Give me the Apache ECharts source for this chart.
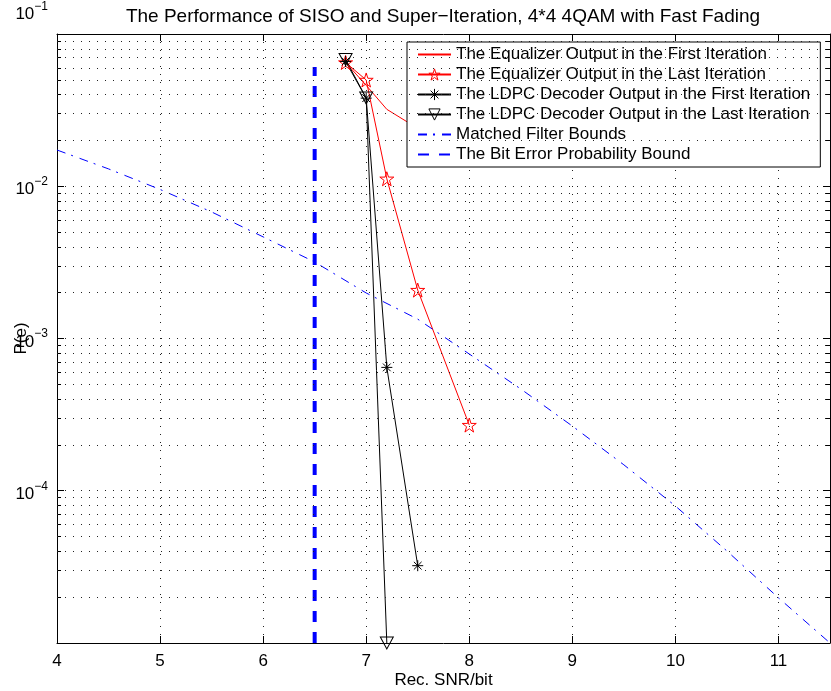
<!DOCTYPE html>
<html><head><meta charset="utf-8">
<script src="https://cdn.jsdelivr.net/npm/echarts@6/dist/echarts.min.js"></script>
<style>html,body{margin:0;padding:0;background:#fff}#c{width:831px;height:691px}</style>
</head><body><div id="c"></div>
<script>
// ---- data ----
const eqFirstSnr = [6.8, 7.0, 7.2, 7.5, 8.0];
const eqFirstPe = [0.065, 0.046, 0.032, 0.024, 0.02];
const eqLastSnr = [6.8, 7.0, 7.2, 7.5, 8.0];
const eqLastPe = [0.065, 0.0499, 0.0112, 0.00208, 0.00027];
const ldpcFirstSnr = [6.8, 7.0, 7.2, 7.5];
const ldpcFirstPe = [0.066, 0.0379, 0.000646, 3.22e-5];
const ldpcLastSnr = [6.8, 7.0, 7.2];
const ldpcLastPe = [0.068, 0.038, 1e-5];
const mfSnr = [4, 4.5, 5, 5.5, 6, 6.5, 7, 7.5, 8, 8.5, 9, 9.5, 10, 10.5, 11, 11.5];
const mfPe = [0.0173, 0.0130, 0.00953, 0.00678, 0.00465, 0.00318, 0.00199, 0.00134, 0.000791, 0.000466, 0.000266, 0.000148, 7.94e-5, 4.02e-5, 1.98e-5, 1e-5];
const boundSnr = [6.5, 6.5];
const boundPe = [1e-5, 0.0607];
const seriesNames = [
  'The Equalizer Output in the First Iteration',
  'The Equalizer Output in the Last Iteration',
  'The LDPC Decoder Output in the First Iteration',
  'The LDPC Decoder Output in the Last Iteration',
  'Matched Filter Bounds',
  'The Bit Error Probability Bound'
];
const titleText = 'The Performance of SISO and Super\u2212Iteration, 4*4 4QAM with Fast Fading';
const xName = 'Rec. SNR/bit';
const yName = 'P(e)';
const xMin = 4, xMax = 11.5, xStep = 1;
const yMin = 1e-5, yMax = 1e-1;
const minorDecades = [-5, -4, -3, -2];
const minorMult = [2, 3, 4, 5, 6, 7, 8, 9];

// ---- helpers ----
const zip = (xs, ys) => xs.map((x, i) => [x, ys[i]]);
const FONT = "'Liberation Sans', Arial, Helvetica, sans-serif";
const minorVals = [];
minorDecades.forEach(e => minorMult.forEach(m => minorVals.push(m * Math.pow(10, e))));
const minorLog = minorVals.map(v => Math.log10(v));
const gridStyle = { color: '#222', width: 1, type: [1, 7] };
const clear = 'rgba(0,0,0,0)';

const starPath = 'path://M50,0 L61.8,35.1 L98.9,35.1 L68.8,56.8 L80.2,91.9 L50,70.2 L19.8,91.9 L31.2,56.8 L1.1,35.1 L38.2,35.1 Z';
const asteriskPath = 'path://M50,0 L50,100 M0,50 L100,50 M15,15 L85,85 M85,15 L15,85';
const triPath = 'path://M0,0 L100,0 L50,87 Z';

const minorAxis = (pos) => ({
  type: 'value', min: Math.log10(yMin), max: Math.log10(yMax), position: pos,
  axisLine: { show: false },
  axisLabel: { show: false },
  splitLine: { show: false },
  axisTick: { show: true, inside: true, length: 4, customValues: minorLog, lineStyle: { color: '#000' } }
});

const legendData = seriesNames.map((n, i) => {
  if (i === 1) return { name: n, itemStyle: { color: clear, borderColor: '#ff0000', borderWidth: 1 } };
  if (i === 2) return { name: n, itemStyle: { color: clear, borderColor: '#000', borderWidth: 1 } };
  if (i === 3) return { name: n, itemStyle: { color: clear, borderColor: '#000', borderWidth: 1 } };
  return { name: n };
});

const chart = echarts.init(document.getElementById('c'), null, { renderer: 'canvas' });
chart.setOption({
  animation: false,
  backgroundColor: '#fff',
  textStyle: { fontFamily: FONT, color: '#000' },
  title: {
    text: titleText, left: 438, top: 2, textAlign: 'center',
    textStyle: { fontFamily: FONT, fontSize: 19, fontWeight: 'normal', color: '#000' }
  },
  grid: { left: 57, top: 34, width: 773, height: 609, containLabel: false, outerBoundsMode: 'none' },
  legend: {
    data: legendData, orient: 'vertical', left: 407, top: 42,
    padding: [4, 10, 4, 10], itemWidth: 33, itemHeight: 14, itemGap: 3,
    backgroundColor: '#fff', borderColor: '#000', borderWidth: 1, borderRadius: 0,
    selectedMode: false,
    textStyle: { fontFamily: FONT, fontSize: 17, lineHeight: 17, color: '#000' }
  },
  xAxis: [{
    type: 'value', min: xMin, max: xMax, interval: xStep,
    name: xName, nameLocation: 'middle', nameGap: 29, nameMoveOverlap: false,
    nameTextStyle: { fontFamily: FONT, fontSize: 17, color: '#000' },
    axisLine: { show: true, onZero: false, lineStyle: { color: '#000', width: 1 } },
    axisTick: { show: true, inside: true, length: 7, lineStyle: { color: '#000' } },
    axisLabel: { fontFamily: FONT, fontSize: 17, color: '#000', margin: 10, showMaxLabel: false },
    splitLine: { show: true, lineStyle: gridStyle }
  }, {
    type: 'value', min: xMin, max: xMax, interval: xStep, position: 'top',
    axisLine: { show: true, onZero: false, lineStyle: { color: '#000', width: 1 } },
    axisTick: { show: true, inside: true, length: 7, lineStyle: { color: '#000' } },
    axisLabel: { show: false }, splitLine: { show: false }
  }],
  yAxis: [{
    type: 'log', logBase: 10, min: yMin, max: yMax,
    name: yName, nameLocation: 'middle', nameGap: 27, nameRotate: 90, nameMoveOverlap: false,
    nameTextStyle: { fontFamily: FONT, fontSize: 17, color: '#000' },
    axisLine: { show: true, onZero: false, lineStyle: { color: '#000', width: 1 } },
    axisTick: { show: true, inside: true, length: 7, lineStyle: { color: '#000' } },
    axisLabel: {
      margin: 9,
      formatter: v => {
        const e = Math.round(Math.log10(v));
        if (e <= -5) return '';
        if (e >= -1) return '{bt|10}{st|\u2212' + (-e) + '}';
        return '{b|10}{s|\u2212' + (-e) + '}';
      },
      rich: {
        b: { fontFamily: FONT, fontSize: 17, color: '#000', padding: [7, 0, 0, 0] },
        s: { fontFamily: FONT, fontSize: 12, color: '#000', padding: [0, 0, 9, 0] },
        bt: { fontFamily: FONT, fontSize: 17, color: '#000', padding: [7, 0, 46, 0] },
        st: { fontFamily: FONT, fontSize: 12, color: '#000', padding: [0, 0, 55, 0] }
      }
    },
    splitLine: { show: true, lineStyle: gridStyle }
  }, {
    type: 'log', logBase: 10, min: yMin, max: yMax, position: 'right',
    axisLine: { show: true, onZero: false, lineStyle: { color: '#000', width: 1 } },
    axisTick: { show: true, inside: true, length: 7, lineStyle: { color: '#000' } },
    axisLabel: { show: false }, splitLine: { show: false }
  }, minorAxis('left'), minorAxis('right')],
  series: [
    {
      name: 'minorGrid', type: 'line', data: [], silent: true,
      markLine: {
        silent: true, symbol: ['none', 'none'], label: { show: false }, precision: 12,
        lineStyle: gridStyle, animation: false,
        data: minorVals.map(v => ({ yAxis: v }))
      }
    },
    {
      name: seriesNames[0], type: 'line', data: zip(eqFirstSnr, eqFirstPe),
      symbol: 'rect', showSymbol: false, lineStyle: { color: '#ff0000', width: 1 },
      itemStyle: { color: clear, borderWidth: 0 }
    },
    {
      name: seriesNames[1], type: 'line', data: zip(eqLastSnr, eqLastPe),
      symbol: starPath, symbolSize: 14,
      lineStyle: { color: '#ff0000', width: 1 },
      itemStyle: { color: clear, borderColor: '#ff0000', borderWidth: 1 }
    },
    {
      name: seriesNames[2], type: 'line', data: zip(ldpcFirstSnr, ldpcFirstPe),
      symbol: asteriskPath, symbolSize: 11,
      lineStyle: { color: '#000', width: 1 },
      itemStyle: { color: clear, borderColor: '#000', borderWidth: 1 }
    },
    {
      name: seriesNames[3], type: 'line', data: zip(ldpcLastSnr, ldpcLastPe), clip: false,
      symbol: triPath, symbolSize: [13, 12],
      lineStyle: { color: '#000', width: 1 },
      itemStyle: { color: clear, borderColor: '#000', borderWidth: 1 }
    },
    {
      name: seriesNames[4], type: 'line', data: zip(mfSnr, mfPe),
      symbol: 'rect', showSymbol: false, lineStyle: { color: '#0000ff', width: 1, type: [9, 6, 2, 7] },
      itemStyle: { color: clear, borderWidth: 0 }
    },
    {
      name: seriesNames[5], type: 'line', data: zip(boundSnr, boundPe),
      symbol: 'rect', showSymbol: false, lineStyle: { color: '#0000ff', width: 4, type: [11, 10], cap: 'butt' },
      itemStyle: { color: clear, borderWidth: 0 }
    }
  ]
});
</script>
</body></html>
